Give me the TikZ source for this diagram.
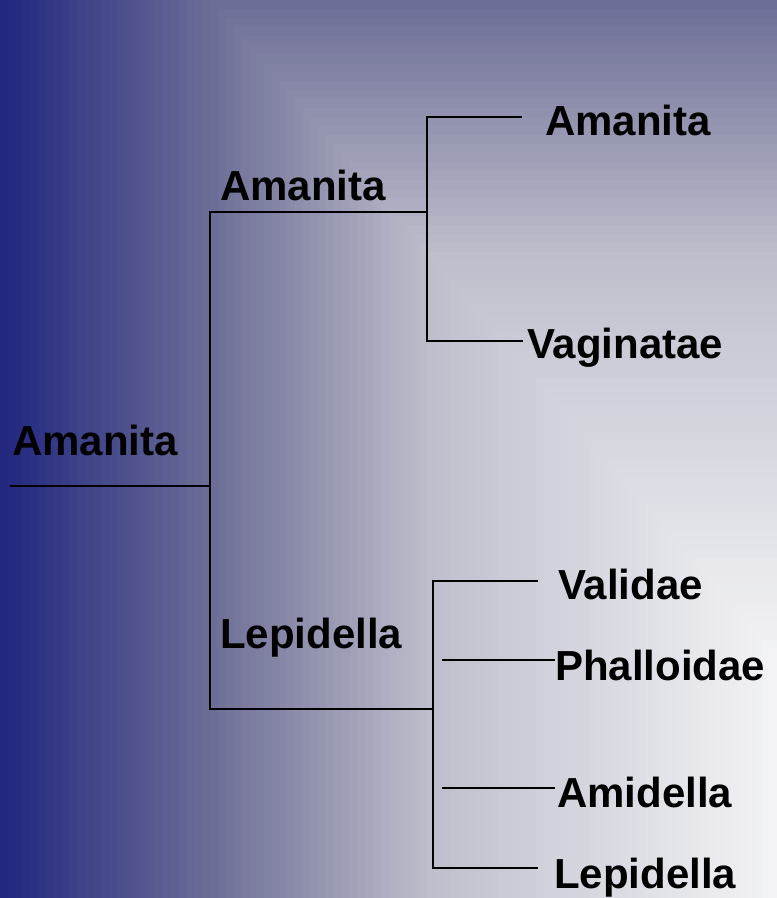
\documentclass[tikz,border=0pt]{standalone}
\usepackage{fontspec}
\setmainfont{Liberation Sans}
\usepackage{xcolor}
\usepackage{tikz}
\usetikzlibrary{positioning}

\definecolor{bgdark}{RGB}{34,39,127}
\definecolor{bgmid}{RGB}{112,113,152}
\definecolor{bgsoft}{RGB}{190,191,204}
\definecolor{bglight}{RGB}{244,244,247}

\begin{document}
\begin{tikzpicture}[x=1pt, y=-1pt]
    % Define styles
    \tikzstyle{taxon} = [anchor=base west, inner sep=0pt, font=\fontsize{42}{48}\selectfont\bfseries]
    \tikzstyle{branch} = [line width=1.8pt, draw=black]

    % Background
    \useasboundingbox (0,0) rectangle (777,898);
    \begin{scope}
        \clip (0,0) rectangle (777,898);
        \foreach \k in {0,...,99} {
            \pgfmathsetmacro{\t}{1-\k/100}
            \pgfmathsetmacro{\pa}{max(0,min(100,(\t-0.72)/0.28*100))}
            \pgfmathsetmacro{\pb}{max(0,min(100,(\t-0.45)/0.27*100))}
            \pgfmathsetmacro{\pc}{max(0,min(100,\t/0.45*100))}
            \fill[bgdark!\pa!bgmid!\pb!bgsoft!\pc!bglight] ({777-777*\t},{657-900*\t}) rectangle (777,898);
        }
    \end{scope}

    % Labels
    \node[taxon] (rootlbl) at (12,455) {Amanita};
    \node[taxon] (amlbl) at (220,200) {Amanita};
    \node[taxon] (leplbl) at (220,648) {Lepidella};
    \node[taxon] (amanita) at (545,135) {Amanita};
    \node[taxon] (vaginatae) at (527,358) {Vaginatae};
    \node[taxon] (validae) at (558,599) {Validae};
    \node[taxon] (phalloidae) at (555,680) {Phalloidae};
    \node[taxon] (amidella) at (557,807) {Amidella};
    \node[taxon] (lepidella) at (554,888) {Lepidella};

    % Junctions
    \coordinate (root) at (10,486);
    \coordinate (k0) at (210,486);
    \coordinate (k0top) at (210,212);
    \coordinate (k0bot) at (210,709);
    \coordinate (k1) at (427,212);
    \coordinate (k1top) at (427,117);
    \coordinate (k1bot) at (427,341);
    \coordinate (k2) at (433,709);
    \coordinate (k2top) at (433,581);
    \coordinate (k2bot) at (433,868);
    \coordinate (phal0) at (442,660);
    \coordinate (amid0) at (442,788);

    % Leaf ends
    \coordinate (amanita0) at (522,117);
    \coordinate (vagin0) at (523,341);
    \coordinate (valid0) at (538,581);
    \coordinate (phal1) at (555,660);
    \coordinate (amid1) at (555,788);
    \coordinate (lepid0) at (538,868);

    % Tree
    \draw[branch] (root) -- (k0);
    \draw[branch] (k1) -- (k0top) -- (k0bot) -- (k2);
    \draw[branch] (amanita0) -- (k1top) -- (k1bot) -- (vagin0);
    \draw[branch] (valid0) -- (k2top) -- (k2bot) -- (lepid0);
    \draw[branch] (phal0) -- (phal1);
    \draw[branch] (amid0) -- (amid1);

\end{tikzpicture}
\end{document}
